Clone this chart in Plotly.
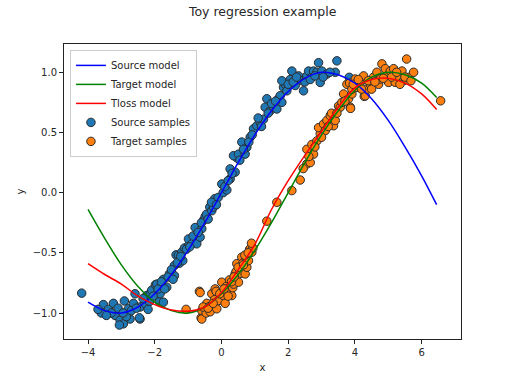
import plotly.graph_objects as go

# ---- data ----
model_x = [-4.0, -3.5, -3.0, -2.5, -2.0, -1.5, -1.0, -0.5, 0.0, 0.5, 1.0, 1.5,
           2.0, 2.5, 3.0, 3.5, 4.0, 4.5, 5.0, 5.5, 6.0, 6.45]
source_model_y = [-0.91, -0.98, -1.0, -0.95, -0.84, -0.68, -0.48, -0.25, 0.0, 0.25, 0.48, 0.68,
                  0.84, 0.95, 1.0, 0.98, 0.91, 0.78, 0.60, 0.38, 0.14, -0.10]
target_model_y = [-0.14, -0.38, -0.60, -0.78, -0.91, -0.98, -1.0, -0.95, -0.84, -0.68, -0.48, -0.25,
                  0.0, 0.25, 0.48, 0.68, 0.85, 0.96, 1.0, 0.98, 0.91, 0.79]
tloss_model_y = [-0.59, -0.68, -0.76, -0.86, -0.93, -0.975, -0.985, -0.95, -0.83, -0.64, -0.43, -0.14,
                 0.10, 0.31, 0.51, 0.71, 0.87, 0.94, 0.95, 0.91, 0.82, 0.69]

source_x = [-4.19, -3.54, -3.39, -3.24, -3.19, -3.04, -2.94, -3.06, -2.74, -2.79, -2.91, -2.64,
            -2.44, -2.44, -2.46, -2.29, -2.59, -2.24, -2.16, -2.13, -2.09, -1.98, -1.94, -1.86,
            -1.84, -1.74, -1.64, -1.74, -1.56, -1.41, -1.41, -1.36, -1.29, -1.26, -1.19, -1.16,
            -1.11, -0.99, -0.99, -0.89, -0.79, -0.79, -0.74, -0.64, -0.59, -0.54, -0.49, -0.45,
            -0.35, -0.29, -0.24, -0.20, -0.10, 0.01, 0.05, 0.16, 0.26, 0.26, 0.41, 0.46, 0.36,
            0.51, 0.61, 0.71, 0.76, 0.86, 0.96, 1.06, 1.16, 1.26, 1.31, 1.36, 1.46, 1.56, 1.66,
            1.71, 1.76, 1.81, 1.86, 1.91, 1.81, 1.96, 2.06, 2.11, 2.21, 2.31, 2.41, 2.46, 2.56,
            2.61, 2.71, 2.76, 2.86, 2.91, 2.96, 3.01, 3.16, 3.41, 3.46, 3.83, -3.60, -3.30, -2.85,
            -3.70, -3.45, -3.10, -2.95, -2.70, -2.55, -2.35, -2.20, -2.05, -1.90, -1.80, -1.70,
            -1.60, -1.50, -1.45, -1.32, -1.22, -1.05, -0.95, -0.85, -0.70, -0.60, -0.40, -0.30,
            -0.15, 0.10, 0.20, 0.32, 0.55, 0.66, 0.82, 0.92, 1.10, 1.20, 1.40, 1.50, 1.62, 2.00,
            2.15, 2.25, 2.50, 2.66, 2.80, 3.05, 3.25]
source_y = [-0.835, -0.93, -0.97, -0.92, -1.02, -1.06, -1.09, -1.10, -1.05, -0.965, -0.90, -0.92,
            -0.95, -1.05, -1.04, -0.92, -0.84, -0.855, -0.905, -0.835, -0.81, -0.766, -0.76, -0.905,
            -0.84, -0.72, -0.785, -0.91, -0.675, -0.69, -0.605, -0.517, -0.52, -0.586, -0.495, -0.565,
            -0.46, -0.44, -0.385, -0.425, -0.37, -0.29, -0.425, -0.37, -0.30, -0.23, -0.20, -0.18,
            -0.12, -0.15, -0.12, -0.05, -0.04, 0.072, 0.0, 0.022, 0.114, 0.197, 0.17, 0.29, 0.307,
            0.32, 0.42, 0.32, 0.377, 0.46, 0.53, 0.556, 0.584, 0.61, 0.71, 0.78, 0.68, 0.71, 0.695,
            0.78, 0.805, 0.75, 0.875, 0.90, 0.93, 0.846, 0.94, 1.01, 0.89, 0.97, 0.93, 0.846, 0.97,
            1.01, 0.96, 1.01, 1.0, 1.08, 0.916, 1.01, 0.985, 1.0, 1.095, 0.958, -1.0, -1.0, -1.03,
            -0.97, -1.02, -0.96, -1.00, -0.98, -0.96, -0.88, -0.97, -0.86, -0.80, -0.74, -0.80,
            -0.70, -0.64, -0.72, -0.58, -0.53, -0.47, -0.45, -0.36, -0.33, -0.25, -0.22, -0.08,
            -0.10, 0.05, 0.10, 0.16, 0.27, 0.36, 0.42, 0.48, 0.62, 0.55, 0.66, 0.74, 0.76, 0.90,
            0.92, 0.96, 0.92, 0.94, 0.97, 0.96, 1.00]

target_x = [-1.06, -0.66, -0.64, -0.61, -0.59, -0.59, -0.46, -0.44, -0.36, -0.34, -0.29, -0.21,
            -0.19, -0.16, -0.14, -0.09, 0.01, 0.04, 0.06, 0.11, 0.14, 0.16, 0.24, 0.26, 0.31,
            0.34, 0.36, 0.41, 0.44, 0.46, 0.51, 0.56, 0.59, 0.61, 0.64, 0.71, 0.74, 0.76, 0.81,
            0.84, 0.86, 0.91, 0.94, 1.36, 1.66, 2.11, 2.36, 2.56, 2.66, 2.76, 2.56, 2.71, 2.86,
            2.96, 2.91, 3.06, 3.16, 3.11, 3.26, 3.36, 3.41, 3.51, 3.56, 3.61, 3.66, 3.76, 3.81,
            3.84, 3.86, 3.87, 3.91, 3.91, 4.01, 4.06, 4.16, 4.26, 4.28, 4.31, 4.36, 4.46, 4.56,
            4.66, 4.71, 4.76, 4.81, 4.91, 4.96, 5.01, 5.06, 5.16, 5.21, 5.31, 5.41, 5.46, 5.55,
            5.61, 5.76, 6.57,
            -0.55, -0.40, -0.25, -0.05, 0.08, 0.20, 0.30, 0.38, 0.50, 0.66, 0.70, 0.80, 0.90,
            2.45, 2.62, 2.80, 3.00, 3.20, 3.30, 3.46, 3.70, 3.95, 4.10, 4.20, 4.40, 4.50, 4.60,
            4.85, 5.10, 5.25, 5.35, 5.50, 5.68]
target_y = [-0.97, -0.82, -0.83, -1.04, -0.98, -1.05, -1.0, -0.92, -0.946, -0.99, -0.84, -0.89,
            -0.80, -0.82, -0.965, -0.896, -0.744, -0.85, -0.855, -0.92, -0.78, -0.80, -0.725, -0.83,
            -0.855, -0.79, -0.76, -0.675, -0.655, -0.59, -0.744, -0.66, -0.67, -0.536, -0.586,
            -0.675, -0.545, -0.62, -0.565, -0.475, -0.467, -0.495, -0.46, -0.237, -0.08, 0.017,
            0.105, 0.238, 0.25, 0.32, 0.36, 0.40, 0.43, 0.49, 0.54, 0.57, 0.60, 0.515, 0.64, 0.556,
            0.60, 0.72, 0.71, 0.75, 0.82, 0.90, 0.78, 0.91, 0.71, 0.70, 0.82, 0.86, 0.944, 0.875,
            0.916, 0.97, 0.80, 0.805, 0.86, 0.90, 0.96, 1.0, 0.90, 0.944, 1.07, 1.03, 0.97, 0.916,
            1.01, 1.03, 0.916, 0.958, 1.01, 0.93, 1.11, 0.958, 1.0, 0.763,
            -0.95, -0.96, -0.92, -0.84, -0.80, -0.86, -0.74, -0.70, -0.62, -0.60, -0.52, -0.50,
            -0.42, 0.20, 0.30, 0.38, 0.46, 0.55, 0.66, 0.66, 0.76, 0.90, 0.94, 0.86, 0.93, 0.86,
            0.92, 0.95, 0.96, 1.00, 0.90, 0.96, 0.93]

x_ticks = [-4, -2, 0, 2, 4, 6]
x_tick_labels = ["\u22124", "\u22122", "0", "2", "4", "6"]
y_ticks = [-1.0, -0.5, 0.0, 0.5, 1.0]
y_tick_labels = ["\u22121.0", "\u22120.5", "0.0", "0.5", "1.0"]

FONT = "DejaVu Sans"
TXT = "#262626"

fig = go.Figure()
marker_line = dict(color="#2b2b2b", width=1)
fig.add_trace(go.Scatter(x=source_x, y=source_y, mode="markers", name="Source samples",
                         marker=dict(color="#1f77b4", size=8.5, line=marker_line), legendrank=4))
fig.add_trace(go.Scatter(x=target_x, y=target_y, mode="markers", name="Target samples",
                         marker=dict(color="#ff7f0e", size=8.5, line=marker_line), legendrank=5))
fig.add_trace(go.Scatter(x=model_x, y=source_model_y, mode="lines", name="Source model",
                         line=dict(color="#0000ff", width=1.5, shape="spline"), legendrank=1))
fig.add_trace(go.Scatter(x=model_x, y=target_model_y, mode="lines", name="Target model",
                         line=dict(color="#008000", width=1.5, shape="spline"), legendrank=2))
fig.add_trace(go.Scatter(x=model_x, y=tloss_model_y, mode="lines", name="Tloss model",
                         line=dict(color="#ff0000", width=1.5, shape="spline"), legendrank=3))

axis_common = dict(showline=True, linecolor="#222222", linewidth=1, mirror=True,
                   ticks="outside", ticklen=4, tickwidth=1, tickcolor="#222222",
                   showgrid=False, zeroline=False, automargin=False,
                   tickfont=dict(family=FONT, size=10, color=TXT))

fig.update_xaxes(range=[-4.72, 7.18], tickvals=x_ticks, ticktext=x_tick_labels,
                 title=dict(text="x", font=dict(family=FONT, size=10, color=TXT), standoff=6),
                 **axis_common)
fig.update_yaxes(range=[-1.216, 1.235], tickvals=y_ticks, ticktext=y_tick_labels,
                 title=dict(text="y", font=dict(family=FONT, size=10, color=TXT), standoff=6),
                 **axis_common)

fig.update_layout(
    width=513, height=378,
    margin=dict(l=64, r=52, t=44, b=39, autoexpand=False),
    paper_bgcolor="white", plot_bgcolor="white",
    font=dict(family=FONT, size=10, color=TXT),
    title=dict(text="Toy regression example", x=0.512, xanchor="center", y=0.969, yanchor="middle",
               font=dict(family=FONT, size=12.5, color=TXT)),
    legend=dict(x=0.015, y=0.98, xanchor="left", yanchor="top",
                bgcolor="rgba(255,255,255,0.8)", bordercolor="#cccccc", borderwidth=1,
                font=dict(family=FONT, size=10, color=TXT), itemwidth=30),
    showlegend=True,
)

fig.write_html("out.html", config={"displayModeBar": False},
               post_script="document.body.style.margin='0';document.body.style.overflow='hidden';")
